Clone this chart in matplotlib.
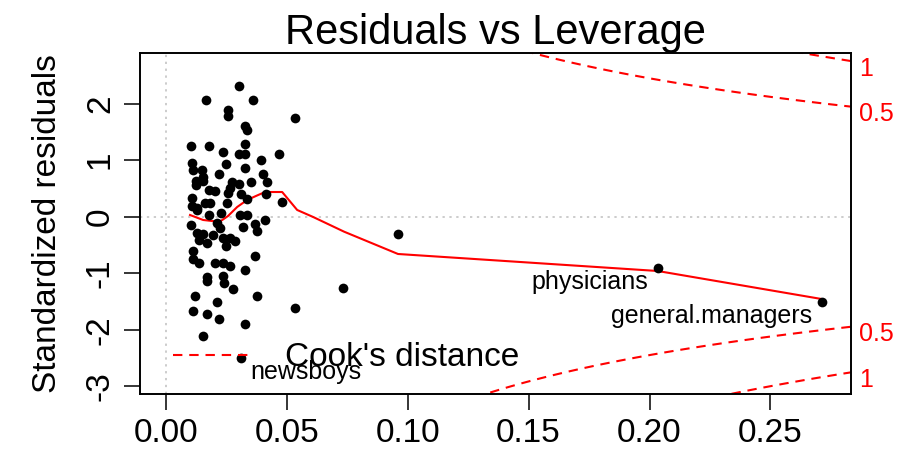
import numpy as np
import matplotlib
matplotlib.use("Agg")
import matplotlib.pyplot as plt
from matplotlib.lines import Line2D

plt.rcParams["font.family"] = ["Liberation Sans", "DejaVu Sans"]

# leverage (hat values) and standardized residuals
leverage = [
    0.0304, 0.0165, 0.0362, 0.0255, 0.0255, 0.0534, 0.0326, 0.0337, 0.0106, 0.0180,
    0.0329, 0.0238, 0.0304, 0.0328, 0.0469, 0.0394, 0.0249, 0.0110, 0.0329, 0.0114,
    0.0149, 0.0221, 0.0403, 0.0155, 0.0124, 0.0155, 0.0417, 0.0351, 0.0273, 0.0304,
    0.0124, 0.0266, 0.0180, 0.0204, 0.0255, 0.0310, 0.0414, 0.0110, 0.0335, 0.0479,
    0.0252, 0.0162, 0.0183, 0.0110, 0.0128, 0.0227, 0.0180, 0.0307, 0.0335, 0.0128,
    0.0106, 0.0211, 0.0224, 0.0321, 0.0369, 0.0376, 0.0410, 0.0128, 0.0155, 0.0197,
    0.0135, 0.0172, 0.0238, 0.0266, 0.0286, 0.0249, 0.0112, 0.0112, 0.0139, 0.0204,
    0.0238, 0.0266, 0.0369, 0.0328, 0.0172, 0.0172, 0.0238, 0.0241, 0.0279, 0.0121,
    0.0213, 0.0376, 0.0534, 0.0112, 0.0172, 0.0221, 0.0328, 0.0153, 0.0311,
    0.0734, 0.0960, 0.2034, 0.2712,
]
std_resid = [
    2.319, 2.071, 2.065, 1.894, 1.777, 1.752, 1.611, 1.535, 1.257, 1.257,
    1.287, 1.150, 1.110, 1.110, 1.110, 1.004, 0.933, 0.945, 0.867, 0.827,
    0.827, 0.761, 0.756, 0.708, 0.632, 0.632, 0.619, 0.609, 0.609, 0.584,
    0.561, 0.513, 0.473, 0.455, 0.414, 0.407, 0.396, 0.336, 0.313, 0.265,
    0.237, 0.242, 0.242, 0.195, 0.149, 0.060, 0.030, 0.030, 0.030, 0.119,
    -0.142, -0.117, -0.205, -0.188, -0.129, -0.248, -0.058, -0.294, -0.306, -0.324,
    -0.412, -0.471, -0.382, -0.382, -0.425, -0.519, -0.607, -0.754, -0.825, -0.825,
    -0.825, -0.873, -0.696, -0.943, -1.062, -1.133, -1.044, -1.179, -1.285, -1.404,
    -1.504, -1.404, -1.611, -1.669, -1.722, -1.816, -1.899, -2.112, -2.506,
    -1.257, -0.306, -0.908, -1.515,
]

# smoother through the points
smooth_x = [0.0100, 0.0154, 0.0191, 0.0224, 0.0257, 0.0295, 0.0336, 0.0377,
            0.0410, 0.0481, 0.0543, 0.0609, 0.0737, 0.0960, 0.2034, 0.2712]
smooth_y = [0.030, -0.058, -0.076, -0.085, 0.012, 0.172, 0.296, 0.375,
            0.437, 0.437, 0.119, -0.005, -0.265, -0.660, -0.961, -1.457]

labelled = {"newsboys": 88, "physicians": 91, "general.managers": 92}

n_par = 3
cook_levels = [0.5, 1]
xticks = [0.00, 0.05, 0.10, 0.15, 0.20, 0.25]
yticks = [-3, -2, -1, 0, 1, 2]
xlim = (-0.0109, 0.2832)
ylim = (-3.138, 2.892)

fig = plt.figure(figsize=(9.06, 4.61), dpi=100)
ax = fig.add_axes([139.5 / 906, 67 / 461, 711.2 / 906, 340.7 / 461])
ax.set_xlim(*xlim)
ax.set_ylim(*ylim)

ax.axhline(0, color="#bebebe", lw=1.1, ls=(0, (1.5, 3)), zorder=1)
ax.axvline(0, color="#bebebe", lw=1.1, ls=(0, (1.5, 3)), zorder=1)

ax.plot(leverage, std_resid, "o", color="black", ms=7, mec="none", zorder=3)
ax.plot(smooth_x, smooth_y, color="red", lw=1.5, zorder=2)

dash = (0, (4.5, 3.3))
hh = np.linspace(min(leverage), xlim[1], 101)
for lev in cook_levels:
    cl = np.sqrt(lev * n_par * (1 - hh) / hh)
    ax.plot(hh, cl, color="red", lw=1.5, ls=dash)
    ax.plot(hh, -cl, color="red", lw=1.5, ls=dash)
    aty = np.sqrt(lev * n_par * (1 - xlim[1]) / xlim[1])
    for yy in (aty, -aty):
        ax.annotate(f"{lev:g}", (xlim[1], yy), xytext=(6, -5.5), textcoords="offset points",
                    ha="left", va="center", color="red", fontsize=18, annotation_clip=False)

for name, i in labelled.items():
    right_half = leverage[i] > np.mean(xlim)
    ax.annotate(name, (leverage[i], std_resid[i]),
                xytext=(-7 if right_half else 7, -15.2), textcoords="offset points",
                ha="right" if right_half else "left", va="baseline", fontsize=18)

handle = Line2D([], [], color="red", lw=1.5, ls=dash)
ax.legend([handle], ["Cook's distance"], loc="center left", bbox_to_anchor=(0.047, 0.106),
          frameon=False, fontsize=24, handlelength=2.25, handletextpad=1.1,
          borderpad=0, borderaxespad=0)

ax.set_xticks(xticks)
ax.set_xticklabels([f"{t:.2f}" for t in xticks])
ax.set_yticks(yticks)
ax.set_yticklabels([str(t) for t in yticks], rotation=90, va="center")
ax.tick_params(length=11.5, width=1.1, labelsize=24, color="black")
ax.tick_params(axis="x", pad=6)
ax.tick_params(axis="y", pad=5.5)
for s in ax.spines.values():
    s.set_linewidth(1.4)

ax.text(-0.1287, 0.5, "Standardized residuals", transform=ax.transAxes, rotation=90,
        ha="center", va="center", fontsize=24)
ax.set_title("Residuals vs Leverage", fontsize=30, pad=1)

fig.savefig("out.png", dpi=100)
